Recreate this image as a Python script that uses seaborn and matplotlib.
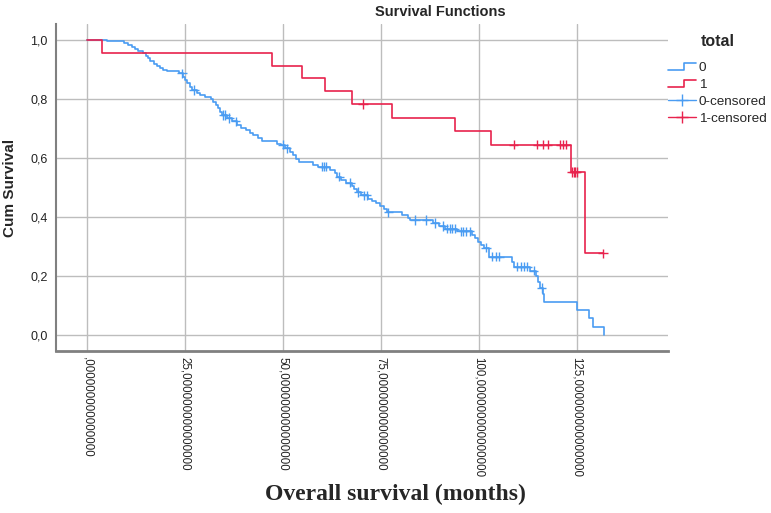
import numpy as np
import pandas as pd
import seaborn as sns
import matplotlib.pyplot as plt
from matplotlib.lines import Line2D
from matplotlib.legend_handler import HandlerBase

# Kaplan-Meier steps, group 0 (time in months, cum survival after the step)
blue_times = [0, 5.0, 9.5, 10.5, 11.5, 12.2, 13.0, 14.2, 15.0, 15.6, 16.2, 17.0, 17.8,
              18.6, 19.3, 20.5, 23.5, 24.4, 25.0, 25.5, 26.2, 26.8, 28.0, 28.8, 30.1,
              31.6, 32.2, 32.8, 33.5, 34.0, 34.5, 35.6, 37.0, 38.2, 39.4, 40.5, 41.5,
              42.4, 43.5, 44.6, 48.5, 49.6, 50.5, 51.8, 52.5, 53.2, 54.0, 57.7, 58.8,
              62.0, 63.2, 63.8, 64.9, 66.0, 67.5, 68.2, 68.8, 69.8, 71.8, 72.8, 73.8,
              74.8, 75.7, 76.4, 80.4, 81.8, 82.4, 88.2, 89.8, 91.3, 94.5, 98.2, 99.0,
              99.8, 100.6, 101.2, 102.5, 108.3, 109.0, 113.0, 114.5, 115.0, 115.5,
              116.2, 116.6, 125.0, 128.0, 129.0, 131.9]
blue_surv = [1.0, 0.995, 0.988, 0.982, 0.976, 0.970, 0.963, 0.955, 0.946, 0.940, 0.930,
             0.920, 0.912, 0.905, 0.898, 0.894, 0.887, 0.876, 0.865, 0.853, 0.841, 0.830,
             0.820, 0.814, 0.808, 0.800, 0.790, 0.779, 0.768, 0.757, 0.746, 0.735, 0.724,
             0.712, 0.702, 0.694, 0.686, 0.678, 0.668, 0.659, 0.648, 0.645, 0.633, 0.621,
             0.609, 0.597, 0.585, 0.577, 0.570, 0.560, 0.549, 0.537, 0.525, 0.516, 0.506,
             0.495, 0.485, 0.474, 0.462, 0.455, 0.447, 0.437, 0.427, 0.416, 0.406, 0.396,
             0.390, 0.380, 0.370, 0.360, 0.352, 0.340, 0.328, 0.316, 0.305, 0.296, 0.266,
             0.246, 0.232, 0.218, 0.200, 0.180, 0.160, 0.138, 0.112, 0.085, 0.057, 0.028,
             0.0]
blue_cens = [24.2, 27.3, 34.8, 35.3, 36.3, 37.9, 50.0, 50.9, 60.0, 60.5, 60.9, 64.4,
             67.1, 69.2, 70.6, 71.3, 76.9, 83.7, 86.6, 88.8, 90.9, 91.9, 92.5, 93.1,
             93.8, 95.4, 96.0, 96.8, 97.6, 101.8, 103.4, 104.3, 105.2, 109.8, 110.6,
             111.4, 112.3, 113.9, 116.0]

# group 1
red_times = [0, 3.8, 47.3, 54.9, 60.7, 67.6, 77.7, 93.9, 103.0, 123.4, 127.0]
red_surv = [1.0, 0.956, 0.913, 0.870, 0.826, 0.783, 0.737, 0.691, 0.645, 0.553, 0.277]
red_cens = [70.4, 108.8, 114.9, 116.4, 117.5, 120.7, 121.5, 122.3, 123.7, 124.1,
            124.5, 124.9, 131.6]

x_ticks = [0, 25, 50, 75, 100, 125]
x_labels = [',000000000000000', '25,000000000000000', '50,000000000000000',
            '75,000000000000000', '100,000000000000000', '125,000000000000000']
y_ticks = [0.0, 0.2, 0.4, 0.6, 0.8, 1.0]
y_labels = ['0,0', '0,2', '0,4', '0,6', '0,8', '1,0']

BLUE = '#4a9cf2'
RED = '#e8234d'

sns.set_style('white')
plt.rcParams['font.family'] = ['Liberation Sans', 'DejaVu Sans']


def step_frame(times, surv, cens, name):
    t = list(times)
    s = list(surv)
    if max(cens) > t[-1]:
        t.append(max(cens))
        s.append(s[-1])
    return pd.DataFrame({'time': t, 'surv': s, 'group': name})


def cens_frame(times, surv, cens, name):
    idx = np.searchsorted(times, cens, side='right') - 1
    return pd.DataFrame({'time': cens, 'surv': np.array(surv)[idx], 'group': name})


lines = pd.concat([step_frame(blue_times, blue_surv, blue_cens, '0'),
                   step_frame(red_times, red_surv, red_cens, '1')])
marks = pd.concat([cens_frame(blue_times, blue_surv, blue_cens, '0'),
                   cens_frame(red_times, red_surv, red_cens, '1')])
pal = {'0': BLUE, '1': RED}

fig = plt.figure(figsize=(7.71, 5.13), dpi=100)
ax = fig.add_axes([56 / 771, 1 - 351 / 513, (668 - 56) / 771, (351 - 24) / 513])

sns.lineplot(data=lines, x='time', y='surv', hue='group', palette=pal, estimator=None,
             sort=False, drawstyle='steps-post', linewidth=1.2, legend=False, ax=ax)
sns.scatterplot(data=marks, x='time', y='surv', hue='group', palette=pal, marker='+',
                s=45, linewidth=1.0, legend=False, ax=ax, zorder=3)

ax.set_xlim(-7.9, 148.2)
ax.set_ylim(-0.054, 1.054)
ax.set_xticks(x_ticks)
ax.set_xticklabels(x_labels, rotation=-90, fontsize=8.3, color='#222222', va='top')
ax.set_yticks(y_ticks)
ax.set_yticklabels(y_labels, fontsize=9, color='#222222')
ax.tick_params(length=0)
ax.tick_params(axis='x', pad=4)
ax.tick_params(axis='y', pad=6)
ax.grid(True, color='#bdbdbd', linewidth=1.0)
ax.set_axisbelow(True)
for side in ['top', 'right']:
    ax.spines[side].set_visible(False)
ax.spines['left'].set_color('#808080')
ax.spines['left'].set_linewidth(1.5)
ax.spines['bottom'].set_color('#808080')
ax.spines['bottom'].set_linewidth(2)

ax.set_xlabel('')
ax.set_ylabel('Cum Survival', fontweight='bold', fontsize=11)
ax.yaxis.set_label_coords(-0.064, 0.5)
fig.text(395 / 771, 1 - 494 / 513, 'Overall survival (months)', ha='center',
         va='center', family='Liberation Serif', fontweight='bold', fontsize=17)
fig.text(440 / 771, 1 - 12 / 513, 'Survival Functions', ha='center', va='center',
         fontweight='bold', fontsize=10.5)
fig.text(718 / 771, 1 - 41 / 513, 'total', ha='center', va='center',
         fontweight='bold', fontsize=11.5)


class StepHandler(HandlerBase):
    def create_artists(self, legend, orig, xd, yd, w, h, fontsize, trans):
        xs = [-xd, -xd + 0.55 * w, -xd + 0.55 * w, -xd + w]
        ys = [-yd + 0.15 * h, -yd + 0.15 * h, -yd + 0.85 * h, -yd + 0.85 * h]
        ln = Line2D(xs, ys, color=orig.get_color(), linewidth=1.2, transform=trans)
        return [ln]


h0 = Line2D([], [], color=BLUE)
h1 = Line2D([], [], color=RED)
h2 = Line2D([], [], color=BLUE, marker='+', markersize=9, linewidth=1.0)
h3 = Line2D([], [], color=RED, marker='+', markersize=9, linewidth=1.0)
leg = fig.legend([h0, h1, h2, h3], ['0', '1', '0-censored', '1-censored'],
                 handler_map={h0: StepHandler(), h1: StepHandler()},
                 loc='upper left', bbox_to_anchor=(668 / 771, 1 - 62 / 513),
                 frameon=False, fontsize=9.7, handlelength=2.1,
                 handletextpad=0.2, labelspacing=0.33, borderpad=0, borderaxespad=0,
                 numpoints=1)

plt.savefig('out.png', dpi=100)
